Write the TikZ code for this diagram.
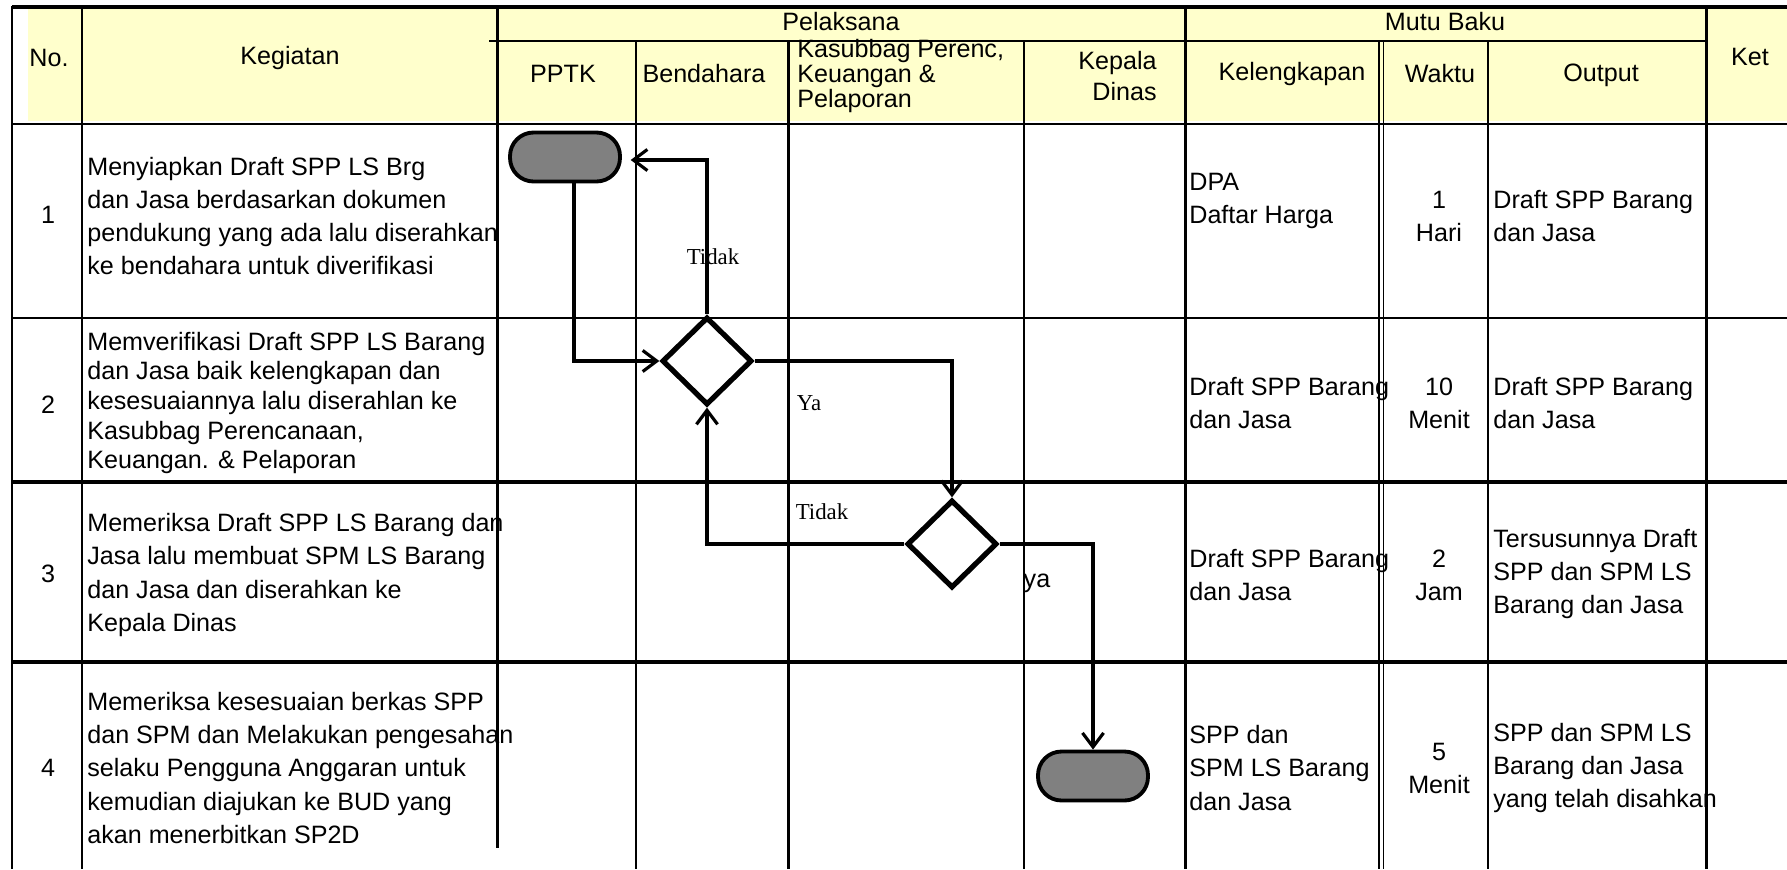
\documentclass[tikz,border=0pt]{standalone}
\usepackage{fontspec}
\setmainfont{Liberation Sans}
\newfontfamily\lblfont{Liberation Serif}
\usepackage{xcolor}
\usetikzlibrary{arrows.meta,shapes.geometric}

\definecolor{headyellow}{HTML}{FFFFCC}
\definecolor{termgray}{HTML}{808080}

\begin{document}
\begin{tikzpicture}[
    x=0.02cm, y=-0.02cm,
    thk/.style={line width=1.7pt},
    thn/.style={line width=0.75pt},
    cell/.style={inner sep=0pt, anchor=west, align=left, font=\fontsize{14.3}{18.8}\selectfont},
    cellc/.style={inner sep=0pt, align=center, font=\fontsize{14.3}{18.8}\selectfont},
    term/.style={draw, line width=2.2pt, fill=termgray, rectangle, rounded corners=0.47cm, minimum width=2.2cm, minimum height=0.98cm, inner sep=0pt},
    dec/.style={draw, line width=3pt, fill=white, diamond, minimum width=1.8cm, minimum height=1.76cm, inner sep=0pt},
    arr/.style={-{Straight Barb[length=8pt, width=12pt]}, line width=1.8pt},
    lbl/.style={inner sep=0pt, font=\lblfont\fontsize{13}{15}\selectfont},
]
    \useasboundingbox (0,0) rectangle (1787,869);

    % Header fill
    \fill[headyellow] (28,9) rectangle (1787,121);

    % Grid: verticals
    \draw[thk] (12,6) -- (12,869);
    \draw[thk] (82,6) -- (82,869);
    \draw[thk] (497,6) -- (497,848);
    \draw[thn] (636,41) -- (636,869);
    \draw[thk] (788,41) -- (788,869);
    \draw[thn] (1024,41) -- (1024,869);
    \draw[thk] (1185,6) -- (1185,869);
    \draw[thn] (1379,41) -- (1379,869);
    \draw[thn] (1383.5,41) -- (1383.5,869);
    \draw[thn] (1488,41) -- (1488,869);
    \draw[thk] (1706,6) -- (1706,869);

    % Grid: horizontals
    \draw[line width=2.2pt] (12,7) -- (1787,7);
    \draw[thk] (489,41) -- (1707,41);
    \draw[line width=1pt] (12,124) -- (1787,124);
    \draw[thn] (12,318) -- (1787,318);
    \draw[line width=1.9pt] (12,482) -- (1787,482);
    \draw[line width=1.9pt] (12,662) -- (1787,662);

    % Header texts
    \node[cellc] (hno) at (49,58) {No.};
    \node[cellc] (hkeg) at (290,58) {Kegiatan};
    \node[cellc] (hpel) at (841,22) {Pelaksana};
    \node[cellc] (hmutu) at (1445,22) {Mutu Baku};
    \node[cellc] (hket) at (1750,57) {Ket};
    \node[cellc] (hpptk) at (563,74) {PPTK};
    \node[cellc] (hbend) at (704,74) {Bendahara};
    \node[cell, font=\fontsize{14.3}{14.2}\selectfont] (hkasub) at (797,76) {Kasubbag Perenc,\\Keuangan \&\\Pelaporan};
    \node[cellc, anchor=east, align=right, font=\fontsize{14.3}{18.1}\selectfont] (hkadis) at (1157,76) {Kepala\\Dinas};
    \node[cellc] (hkel) at (1292,74) {Kelengkapan};
    \node[cellc] (hwak) at (1440,74) {Waktu};
    \node[cellc] (hout) at (1601,75) {Output};

    % Row numbers
    \node[cellc] (n1) at (48,215) {1};
    \node[cellc] (n2) at (48,405) {2};
    \node[cellc] (n3) at (48,574) {3};
    \node[cellc] (n4) at (48,768) {4};

    % Kegiatan
    \node[cell] (k1) at (87,216) {Menyiapkan Draft SPP LS Brg\\dan Jasa berdasarkan dokumen\\pendukung yang ada lalu diserahkan\\ke bendahara untuk diverifikasi};
    \node[cell, font=\fontsize{14.3}{16.8}\selectfont] (k2) at (87,403) {Memverifikasi Draft SPP LS Barang\\dan Jasa baik kelengkapan dan\\kesesuaiannya lalu diserahlan ke\\Kasubbag Perencanaan,\\Keuangan. \& Pelaporan};
    \node[cell] (k3) at (87,575) {Memeriksa Draft SPP LS Barang dan\\Jasa lalu membuat SPM LS Barang\\dan Jasa dan diserahkan ke\\Kepala Dinas};
    \node[cell] (k4) at (87,768) {Memeriksa kesesuaian berkas SPP\\dan SPM dan Melakukan pengesahan\\selaku Pengguna Anggaran untuk\\kemudian diajukan ke BUD yang\\akan menerbitkan SP2D};

    % Kelengkapan
    \node[cell] (kl1) at (1189,201) {DPA\\Daftar Harga};
    \node[cell] (kl2) at (1189,403) {Draft SPP Barang\\dan Jasa};
    \node[cell] (kl3) at (1189,575) {Draft SPP Barang\\dan Jasa};
    \node[cell] (kl4) at (1189,768) {SPP dan\\SPM LS Barang\\dan Jasa};

    % Waktu
    \node[cellc] (w1) at (1439,216) {1\\Hari};
    \node[cellc] (w2) at (1439,403) {10\\Menit};
    \node[cellc] (w3) at (1439,575) {2\\Jam};
    \node[cellc] (w4) at (1439,768) {5\\Menit};

    % Output
    \node[cell] (o1) at (1493,216) {Draft SPP Barang\\dan Jasa};
    \node[cell] (o2) at (1493,403) {Draft SPP Barang\\dan Jasa};
    \node[cell] (o3) at (1493,574) {Tersusunnya Draft\\SPP dan SPM LS\\Barang dan Jasa};
    \node[cell] (o4) at (1493,768) {SPP dan SPM LS\\Barang dan Jasa\\yang telah disahkan};

    % Flow shapes
    \node[term] (start) at (565,157) {};
    \node[dec] (dec1) at (707,361) {};
    \node[dec] (dec2) at (952,544) {};
    \node[term] (end) at (1093,776) {};

    % Flow arrows
    \draw[arr, shorten >=5pt] (dec1.north) |- ([yshift=-0.06cm]start.east);
    \draw[arr] ([xshift=0.18cm]start.south) |- (dec1.west);
    \draw[arr] (dec1.east) -| (dec2.north);
    \draw[arr] (dec2.west) -| (dec1.south);
    \draw[arr] (dec2.east) -| (end.north);

    % Flow labels
    \node[lbl] (tidak1) at (713,257) {Tidak};
    \node[lbl] (ya1) at (809,403) {Ya};
    \node[lbl] (tidak2) at (822,512) {Tidak};
    \node[cellc] (ya2) at (1037,583) {ya};
\end{tikzpicture}
\end{document}
